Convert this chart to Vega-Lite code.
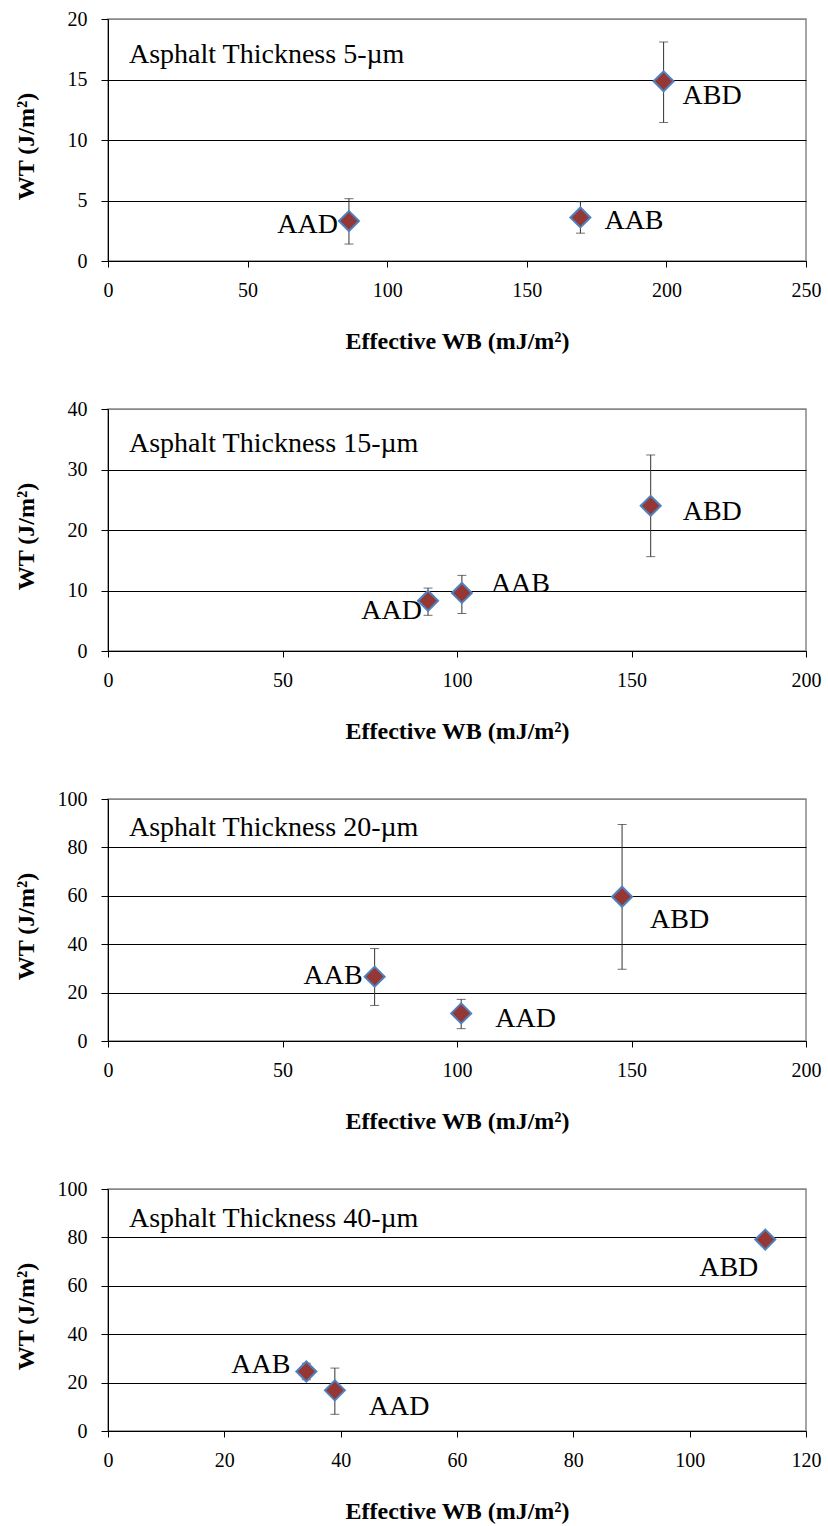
{
  "$schema": "https://vega.github.io/schema/vega-lite/v6.json",
  "background": "white",
  "padding": {"left": 13, "top": 8, "right": 5, "bottom": 5},
  "autosize": {"type": "pad"},
  "datasets": {
    "pts": [
      {"panel": 1, "mix": "AAD", "wb": 86.3, "wt": 3.3, "lo": 1.4, "hi": 5.15},
      {"panel": 1, "mix": "AAB", "wb": 169.2, "wt": 3.6, "lo": 2.3, "hi": 4.9},
      {"panel": 1, "mix": "ABD", "wb": 199.0, "wt": 14.85, "lo": 11.45, "hi": 18.1},
      {"panel": 2, "mix": "AAD", "wb": 91.7, "wt": 8.3, "lo": 5.9, "hi": 10.4},
      {"panel": 2, "mix": "AAB", "wb": 101.4, "wt": 9.6, "lo": 6.2, "hi": 12.5},
      {"panel": 2, "mix": "ABD", "wb": 155.5, "wt": 24.0, "lo": 15.6, "hi": 32.4},
      {"panel": 3, "mix": "AAB", "wb": 76.4, "wt": 26.6, "lo": 14.7, "hi": 38.2},
      {"panel": 3, "mix": "AAD", "wb": 101.2, "wt": 11.4, "lo": 5.1, "hi": 17.2},
      {"panel": 3, "mix": "ABD", "wb": 147.3, "wt": 59.6, "lo": 29.6, "hi": 89.5},
      {"panel": 4, "mix": "AAB", "wb": 34.1, "wt": 24.6, "lo": 21.2, "hi": 28.0},
      {"panel": 4, "mix": "AAD", "wb": 39.0, "wt": 16.8, "lo": 6.9, "hi": 26.0},
      {"panel": 4, "mix": "ABD", "wb": 113.0, "wt": 79.1, "lo": null, "hi": null}
    ]
  },
  "config": {
    "font": "Liberation Serif",
    "view": {"stroke": "#888888", "strokeWidth": 1.5},
    "axis": {
      "labelFont": "Liberation Serif",
      "labelFontSize": 20,
      "labelColor": "#000000",
      "titleFont": "Liberation Serif",
      "titleFontWeight": "bold",
      "titleFontSize": 24,
      "titleColor": "#000000",
      "domainColor": "#000000",
      "domainWidth": 1,
      "tickColor": "#000000",
      "tickWidth": 1,
      "labelFlush": false,
      "labelOverlap": false
    },
    "axisX": {"grid": false, "tickSize": 6, "labelPadding": 13, "titleY": 87, "titleBaseline": "alphabetic"},
    "axisY": {"grid": true, "gridColor": {"condition": {"test": "datum.index === 1", "value": "#888888"}, "value": "#000000"}, "gridWidth": 1, "tickSize": 7, "labelPadding": 14, "titleAngle": 270, "titleX": -82, "titleY": 127, "titleAlign": "center", "titleBaseline": "middle"},
    "title": {"anchor": "start", "frame": "group", "fontSize": 28, "fontWeight": "normal", "font": "Liberation Serif", "color": "#000000", "baseline": "alphabetic", "offset": 0, "dx": 21, "dy": 64},
    "text": {"font": "Liberation Serif", "fontSize": 28, "color": "#000000", "baseline": "middle"}
  },
  "bounds": "flush",
  "spacing": 148,
  "vconcat": [
    {
      "width": 698, "height": 242,
      "title": {"text": "Asphalt Thickness 5-µm"},
      "data": {"name": "pts"},
      "transform": [{"filter": "datum.panel === 1"}],
      "encoding": {
        "x": {"field": "wb", "type": "quantitative", "scale": {"domain": [0, 250], "nice": false}, "axis": {"values": [0, 50, 100, 150, 200, 250], "title": "Effective WB  (mJ/m²)"}}
      },
      "layer": [
        {"mark": {"type": "rule", "color": "#333333", "strokeWidth": 1}, "encoding": {"y": {"field": "lo", "type": "quantitative", "scale": {"domain": [0, 20], "nice": false}, "axis": {"values": [0, 5, 10, 15, 20], "title": "WT  (J/m²)"}}, "y2": {"field": "hi"}}},
        {"mark": {"type": "tick", "orient": "horizontal", "size": 9, "thickness": 1, "color": "#333333"}, "encoding": {"y": {"field": "hi", "type": "quantitative", "scale": {"domain": [0, 20], "nice": false}, "axis": {"values": [0, 5, 10, 15, 20], "title": "WT  (J/m²)"}}}},
        {"mark": {"type": "tick", "orient": "horizontal", "size": 9, "thickness": 1, "color": "#333333"}, "encoding": {"y": {"field": "lo", "type": "quantitative", "scale": {"domain": [0, 20], "nice": false}, "axis": {"values": [0, 5, 10, 15, 20], "title": "WT  (J/m²)"}}}},
        {"mark": {"type": "point", "shape": "diamond", "filled": true, "size": 400, "fill": "#953735", "stroke": "#4F81BD", "strokeWidth": 2, "opacity": 1}, "encoding": {"y": {"field": "wt", "type": "quantitative", "scale": {"domain": [0, 20], "nice": false}, "axis": {"values": [0, 5, 10, 15, 20], "title": "WT  (J/m²)"}}}},
        {"transform": [{"filter": "datum.mix === 'AAD'"}], "mark": {"type": "text", "align": "right", "dx": -11, "dy": 4}, "encoding": {"y": {"field": "wt", "type": "quantitative", "scale": {"domain": [0, 20], "nice": false}, "axis": {"values": [0, 5, 10, 15, 20], "title": "WT  (J/m²)"}}, "text": {"field": "mix"}}},
        {"transform": [{"filter": "datum.mix === 'AAB'"}], "mark": {"type": "text", "align": "left", "dx": 24, "dy": 4}, "encoding": {"y": {"field": "wt", "type": "quantitative", "scale": {"domain": [0, 20], "nice": false}, "axis": {"values": [0, 5, 10, 15, 20], "title": "WT  (J/m²)"}}, "text": {"field": "mix"}}},
        {"transform": [{"filter": "datum.mix === 'ABD'"}], "mark": {"type": "text", "align": "left", "dx": 19, "dy": 15}, "encoding": {"y": {"field": "wt", "type": "quantitative", "scale": {"domain": [0, 20], "nice": false}, "axis": {"values": [0, 5, 10, 15, 20], "title": "WT  (J/m²)"}}, "text": {"field": "mix"}}}
      ]
    },
    {
      "width": 698, "height": 242,
      "title": {"text": "Asphalt Thickness 15-µm", "dy": 63},
      "data": {"name": "pts"},
      "transform": [{"filter": "datum.panel === 2"}],
      "encoding": {
        "x": {"field": "wb", "type": "quantitative", "scale": {"domain": [0, 200], "nice": false}, "axis": {"values": [0, 50, 100, 150, 200], "title": "Effective WB  (mJ/m²)"}}
      },
      "layer": [
        {"mark": {"type": "rule", "color": "#333333", "strokeWidth": 1}, "encoding": {"y": {"field": "lo", "type": "quantitative", "scale": {"domain": [0, 40], "nice": false}, "axis": {"values": [0, 10, 20, 30, 40], "title": "WT  (J/m²)"}}, "y2": {"field": "hi"}}},
        {"mark": {"type": "tick", "orient": "horizontal", "size": 9, "thickness": 1, "color": "#333333"}, "encoding": {"y": {"field": "hi", "type": "quantitative", "scale": {"domain": [0, 40], "nice": false}, "axis": {"values": [0, 10, 20, 30, 40], "title": "WT  (J/m²)"}}}},
        {"mark": {"type": "tick", "orient": "horizontal", "size": 9, "thickness": 1, "color": "#333333"}, "encoding": {"y": {"field": "lo", "type": "quantitative", "scale": {"domain": [0, 40], "nice": false}, "axis": {"values": [0, 10, 20, 30, 40], "title": "WT  (J/m²)"}}}},
        {"mark": {"type": "point", "shape": "diamond", "filled": true, "size": 400, "fill": "#953735", "stroke": "#4F81BD", "strokeWidth": 2, "opacity": 1}, "encoding": {"y": {"field": "wt", "type": "quantitative", "scale": {"domain": [0, 40], "nice": false}, "axis": {"values": [0, 10, 20, 30, 40], "title": "WT  (J/m²)"}}}},
        {"transform": [{"filter": "datum.mix === 'AAD'"}], "mark": {"type": "text", "align": "right", "dx": -6, "dy": 10}, "encoding": {"y": {"field": "wt", "type": "quantitative", "scale": {"domain": [0, 40], "nice": false}, "axis": {"values": [0, 10, 20, 30, 40], "title": "WT  (J/m²)"}}, "text": {"field": "mix"}}},
        {"transform": [{"filter": "datum.mix === 'AAB'"}], "mark": {"type": "text", "align": "left", "dx": 29, "dy": -9}, "encoding": {"y": {"field": "wt", "type": "quantitative", "scale": {"domain": [0, 40], "nice": false}, "axis": {"values": [0, 10, 20, 30, 40], "title": "WT  (J/m²)"}}, "text": {"field": "mix"}}},
        {"transform": [{"filter": "datum.mix === 'ABD'"}], "mark": {"type": "text", "align": "left", "dx": 32, "dy": 6}, "encoding": {"y": {"field": "wt", "type": "quantitative", "scale": {"domain": [0, 40], "nice": false}, "axis": {"values": [0, 10, 20, 30, 40], "title": "WT  (J/m²)"}}, "text": {"field": "mix"}}}
      ]
    },
    {
      "width": 698, "height": 242,
      "title": {"text": "Asphalt Thickness 20-µm", "dy": 57},
      "data": {"name": "pts"},
      "transform": [{"filter": "datum.panel === 3"}],
      "encoding": {
        "x": {"field": "wb", "type": "quantitative", "scale": {"domain": [0, 200], "nice": false}, "axis": {"values": [0, 50, 100, 150, 200], "title": "Effective WB  (mJ/m²)"}}
      },
      "layer": [
        {"mark": {"type": "rule", "color": "#333333", "strokeWidth": 1}, "encoding": {"y": {"field": "lo", "type": "quantitative", "scale": {"domain": [0, 100], "nice": false}, "axis": {"values": [0, 20, 40, 60, 80, 100], "title": "WT  (J/m²)"}}, "y2": {"field": "hi"}}},
        {"mark": {"type": "tick", "orient": "horizontal", "size": 9, "thickness": 1, "color": "#333333"}, "encoding": {"y": {"field": "hi", "type": "quantitative", "scale": {"domain": [0, 100], "nice": false}, "axis": {"values": [0, 20, 40, 60, 80, 100], "title": "WT  (J/m²)"}}}},
        {"mark": {"type": "tick", "orient": "horizontal", "size": 9, "thickness": 1, "color": "#333333"}, "encoding": {"y": {"field": "lo", "type": "quantitative", "scale": {"domain": [0, 100], "nice": false}, "axis": {"values": [0, 20, 40, 60, 80, 100], "title": "WT  (J/m²)"}}}},
        {"mark": {"type": "point", "shape": "diamond", "filled": true, "size": 400, "fill": "#953735", "stroke": "#4F81BD", "strokeWidth": 2, "opacity": 1}, "encoding": {"y": {"field": "wt", "type": "quantitative", "scale": {"domain": [0, 100], "nice": false}, "axis": {"values": [0, 20, 40, 60, 80, 100], "title": "WT  (J/m²)"}}}},
        {"transform": [{"filter": "datum.mix === 'AAB'"}], "mark": {"type": "text", "align": "right", "dx": -12, "dy": -1}, "encoding": {"y": {"field": "wt", "type": "quantitative", "scale": {"domain": [0, 100], "nice": false}, "axis": {"values": [0, 20, 40, 60, 80, 100], "title": "WT  (J/m²)"}}, "text": {"field": "mix"}}},
        {"transform": [{"filter": "datum.mix === 'AAD'"}], "mark": {"type": "text", "align": "left", "dx": 34, "dy": 6}, "encoding": {"y": {"field": "wt", "type": "quantitative", "scale": {"domain": [0, 100], "nice": false}, "axis": {"values": [0, 20, 40, 60, 80, 100], "title": "WT  (J/m²)"}}, "text": {"field": "mix"}}},
        {"transform": [{"filter": "datum.mix === 'ABD'"}], "mark": {"type": "text", "align": "left", "dx": 28, "dy": 23}, "encoding": {"y": {"field": "wt", "type": "quantitative", "scale": {"domain": [0, 100], "nice": false}, "axis": {"values": [0, 20, 40, 60, 80, 100], "title": "WT  (J/m²)"}}, "text": {"field": "mix"}}}
      ]
    },
    {
      "width": 698, "height": 242,
      "title": {"text": "Asphalt Thickness 40-µm", "dy": 58},
      "data": {"name": "pts"},
      "transform": [{"filter": "datum.panel === 4"}],
      "encoding": {
        "x": {"field": "wb", "type": "quantitative", "scale": {"domain": [0, 120], "nice": false}, "axis": {"values": [0, 20, 40, 60, 80, 100, 120], "title": "Effective WB  (mJ/m²)"}}
      },
      "layer": [
        {"mark": {"type": "rule", "color": "#333333", "strokeWidth": 1}, "encoding": {"y": {"field": "lo", "type": "quantitative", "scale": {"domain": [0, 100], "nice": false}, "axis": {"values": [0, 20, 40, 60, 80, 100], "title": "WT  (J/m²)"}}, "y2": {"field": "hi"}}},
        {"mark": {"type": "tick", "orient": "horizontal", "size": 9, "thickness": 1, "color": "#333333"}, "encoding": {"y": {"field": "hi", "type": "quantitative", "scale": {"domain": [0, 100], "nice": false}, "axis": {"values": [0, 20, 40, 60, 80, 100], "title": "WT  (J/m²)"}}}},
        {"mark": {"type": "tick", "orient": "horizontal", "size": 9, "thickness": 1, "color": "#333333"}, "encoding": {"y": {"field": "lo", "type": "quantitative", "scale": {"domain": [0, 100], "nice": false}, "axis": {"values": [0, 20, 40, 60, 80, 100], "title": "WT  (J/m²)"}}}},
        {"mark": {"type": "point", "shape": "diamond", "filled": true, "size": 400, "fill": "#953735", "stroke": "#4F81BD", "strokeWidth": 2, "opacity": 1}, "encoding": {"y": {"field": "wt", "type": "quantitative", "scale": {"domain": [0, 100], "nice": false}, "axis": {"values": [0, 20, 40, 60, 80, 100], "title": "WT  (J/m²)"}}}},
        {"transform": [{"filter": "datum.mix === 'AAB'"}], "mark": {"type": "text", "align": "right", "dx": -16, "dy": -6}, "encoding": {"y": {"field": "wt", "type": "quantitative", "scale": {"domain": [0, 100], "nice": false}, "axis": {"values": [0, 20, 40, 60, 80, 100], "title": "WT  (J/m²)"}}, "text": {"field": "mix"}}},
        {"transform": [{"filter": "datum.mix === 'AAD'"}], "mark": {"type": "text", "align": "left", "dx": 34, "dy": 17}, "encoding": {"y": {"field": "wt", "type": "quantitative", "scale": {"domain": [0, 100], "nice": false}, "axis": {"values": [0, 20, 40, 60, 80, 100], "title": "WT  (J/m²)"}}, "text": {"field": "mix"}}},
        {"transform": [{"filter": "datum.mix === 'ABD'"}], "mark": {"type": "text", "align": "right", "dx": -7, "dy": 28}, "encoding": {"y": {"field": "wt", "type": "quantitative", "scale": {"domain": [0, 100], "nice": false}, "axis": {"values": [0, 20, 40, 60, 80, 100], "title": "WT  (J/m²)"}}, "text": {"field": "mix"}}}
      ]
    }
  ]
}
